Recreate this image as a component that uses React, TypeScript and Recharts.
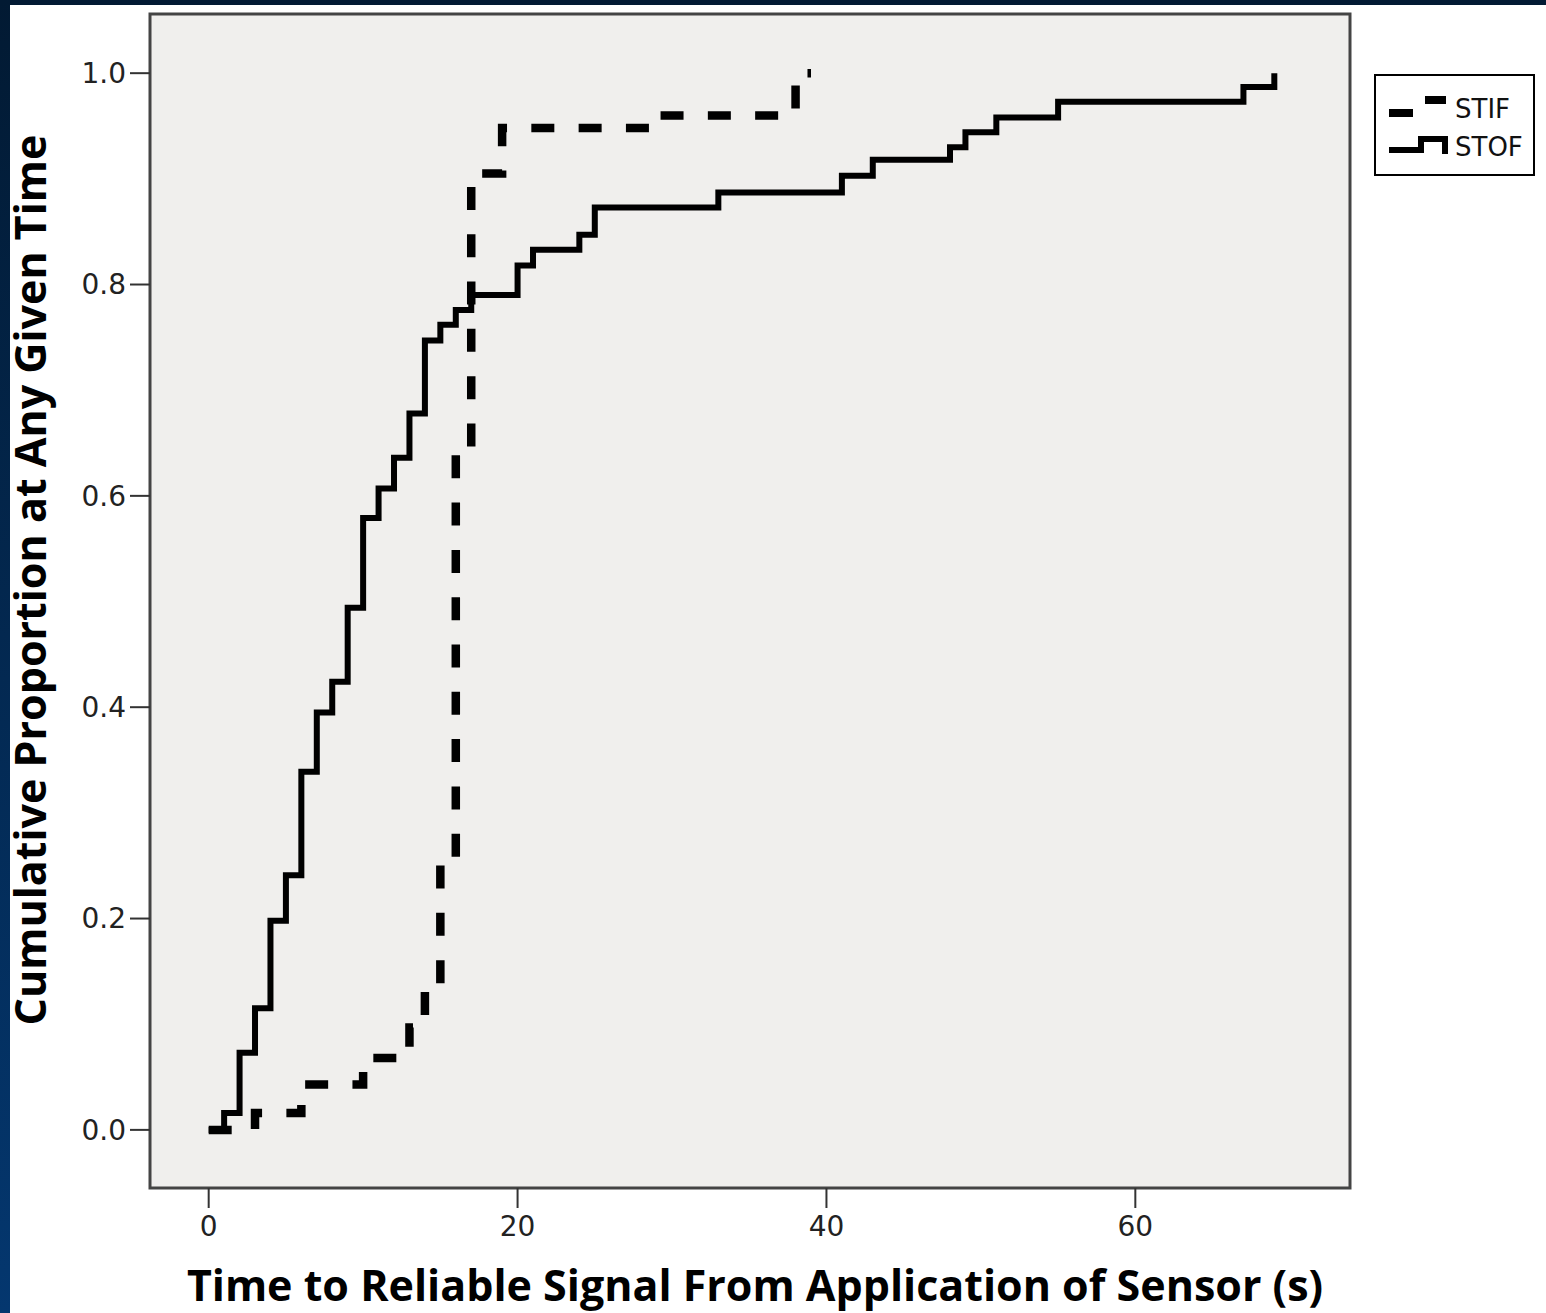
import { LineChart, Line, XAxis, YAxis, ReferenceArea } from 'recharts';

// Kaplan-Meier style cumulative curves
const stofTimes = [0, 1, 2, 3, 4, 5, 6, 7, 8, 9, 10, 11, 12, 13, 14, 15, 16, 17, 20, 21, 24, 25, 33, 41, 43, 48, 49, 51, 55, 67, 69];
const stofProps = [0, 0.016, 0.073, 0.115, 0.198, 0.241, 0.339, 0.395, 0.424, 0.494, 0.579, 0.607, 0.636, 0.678, 0.747, 0.762, 0.776, 0.79, 0.818, 0.833, 0.847, 0.873, 0.887, 0.903, 0.918, 0.93, 0.944, 0.958, 0.973, 0.987, 1.0];

const stifTimes = [0, 3, 6, 10, 13, 14, 15, 16, 17, 19, 29, 38, 39];
const stifProps = [0, 0.016, 0.043, 0.068, 0.097, 0.136, 0.255, 0.643, 0.905, 0.948, 0.96, 1.0, 1.0];

const xTicks = [0, 20, 40, 60];
const yTicks = [0, 0.2, 0.4, 0.6, 0.8, 1.0];
const xDomain: [number, number] = [-3.8, 73.9];
const yDomain: [number, number] = [-0.055, 1.056];

const seriesNames = ['STIF', 'STOF'];
const xTitle = 'Time to Reliable Signal From Application of Sensor (s)';
const yTitle = 'Cumulative Proportion at Any Given Time';

const stofData = stofTimes.map((t, i) => ({ t, p: stofProps[i] }));
const stifData = stifTimes.map((t, i) => ({ t, p: stifProps[i] }));

const tickStyle = { fontSize: 28, fill: '#222', fontFamily: 'DejaVu Sans' };
const titleFont = { fontFamily: 'Open Sans', fontWeight: 700, fontSize: 43, fill: '#000' };

export default function App() {
  return (
    <div
      style={{
        position: 'absolute',
        left: 0,
        top: 0,
        width: 1546,
        height: 1313,
        overflow: 'hidden',
        background: 'linear-gradient(#021a33, #04376f)',
      }}
    >
      <div style={{ position: 'absolute', left: 10, top: 5, width: 1536, height: 1308, background: '#fff' }}>
        <LineChart width={1536} height={1308} data={stofData} margin={{ top: 9, right: 196, bottom: 0, left: 0 }}>
          <ReferenceArea
            x1={xDomain[0]}
            x2={xDomain[1]}
            y1={yDomain[0]}
            y2={yDomain[1]}
            fill="#f0efed"
            fillOpacity={1}
            stroke="#444"
            strokeWidth={3}
          />
          <XAxis
            dataKey="t"
            type="number"
            domain={xDomain}
            ticks={xTicks}
            height={125}
            tick={tickStyle}
            tickSize={20}
            tickMargin={8}
            tickLine={{ stroke: '#333', strokeWidth: 2 }}
            axisLine={false}
            allowDataOverflow
          />
          <YAxis
            type="number"
            domain={yDomain}
            ticks={yTicks}
            width={140}
            tick={tickStyle}
            tickSize={20}
            tickMargin={4}
            tickLine={{ stroke: '#333', strokeWidth: 2 }}
            axisLine={false}
            tickFormatter={(v: number) => v.toFixed(1)}
            allowDataOverflow
          />
          <Line
            data={stifData}
            dataKey="p"
            name={seriesNames[0]}
            type="stepAfter"
            stroke="#000"
            strokeWidth={8.5}
            strokeDasharray="23 24.3"
            strokeLinecap="butt"
            strokeLinejoin="miter"
            dot={false}
            isAnimationActive={false}
          />
          <Line
            data={stofData}
            dataKey="p"
            name={seriesNames[1]}
            type="stepAfter"
            stroke="#000"
            strokeWidth={6}
            strokeLinecap="butt"
            strokeLinejoin="miter"
            dot={false}
            isAnimationActive={false}
          />
        </LineChart>
      </div>

      <svg width={1546} height={1313} style={{ position: 'absolute', left: 0, top: 0, pointerEvents: 'none' }}>
        <text x={755} y={1301} textAnchor="middle" {...titleFont}>
          {xTitle}
        </text>
        <text transform="translate(46,580) rotate(-90)" textAnchor="middle" {...titleFont}>
          {yTitle}
        </text>

        {/* legend */}
        <rect x={1375} y={75} width={159} height={100} fill="#fff" stroke="#000" strokeWidth={2} />
        <line x1={1389} y1={113} x2={1413} y2={113} stroke="#000" strokeWidth={8} />
        <line x1={1425} y1={100} x2={1446} y2={100} stroke="#000" strokeWidth={8} />
        <path d="M1389 150 H1421 V139 H1445 V154" fill="none" stroke="#000" strokeWidth={6} />
        <text x={1455} y={118} fontFamily="DejaVu Sans" fontSize={26} fill="#111">
          {seriesNames[0]}
        </text>
        <text x={1455} y={156} fontFamily="DejaVu Sans" fontSize={26} fill="#111">
          {seriesNames[1]}
        </text>
      </svg>
    </div>
  );
}
